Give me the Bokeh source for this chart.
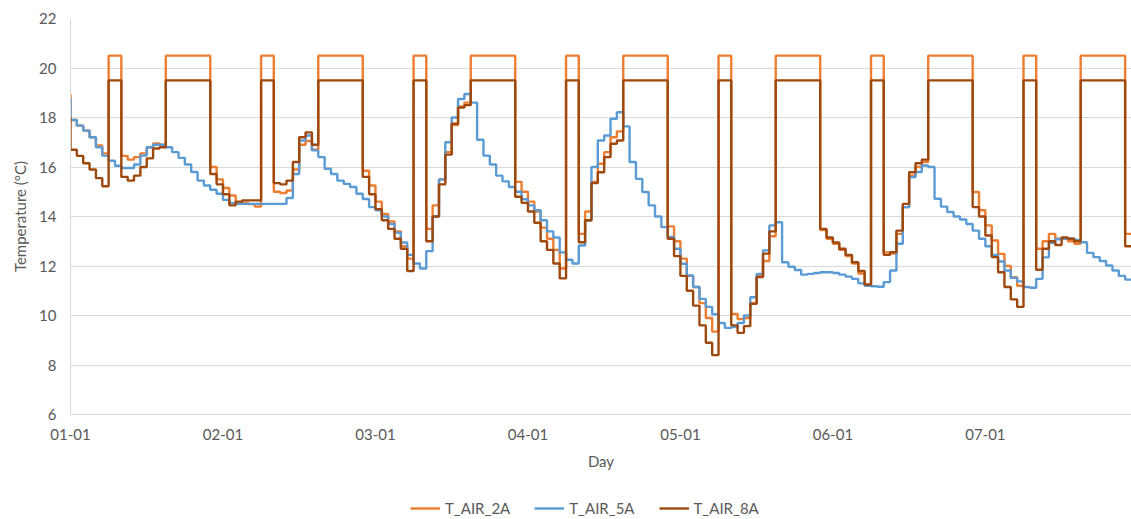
import numpy as np
from bokeh.plotting import figure
from bokeh.layouts import column
from bokeh.models import Range1d, FixedTicker, Legend, LegendItem
from bokeh.embed import file_html
from bokeh.resources import INLINE

# ---- data (hourly values; value i covers hour i-1 .. i) ----
day_ticks = [0, 1, 2, 3, 4, 5, 6]
day_labels = ["01-01", "02-01", "03-01", "04-01", "05-01", "06-01", "07-01"]
y_ticks = [6, 8, 10, 12, 14, 16, 18, 20, 22]

t_air_2a = [
    18.95, 17.9, 17.67, 17.47, 17.2, 16.87, 16.55, 20.5, 20.5, 16.45, 16.3, 16.4,
    16.55, 16.8, 16.95, 16.9, 20.5, 20.5, 20.5, 20.5, 20.5, 20.5, 20.5, 16.0,
    15.5, 15.15, 14.85, 14.55, 14.55, 14.5, 14.4, 20.5, 20.5, 15.0, 14.95, 15.05,
    15.9, 16.9, 17.05, 16.7, 20.5, 20.5, 20.5, 20.5, 20.5, 20.5, 20.5, 15.85,
    15.25, 14.6, 14.1, 13.8, 13.4, 12.8, 12.3, 20.5, 20.5, 13.5, 14.45, 15.5,
    16.6, 17.7, 18.45, 18.6, 20.5, 20.5, 20.5, 20.5, 20.5, 20.5, 20.5, 15.4,
    15.0, 14.6, 14.2, 13.55, 13.1, 12.65, 11.9, 20.5, 20.5, 13.3, 14.2, 15.4,
    16.13, 16.6, 17.2, 17.44, 20.5, 20.5, 20.5, 20.5, 20.5, 20.5, 20.5, 13.6,
    13.0, 12.3, 11.6, 11.15, 10.5, 9.9, 9.35, 20.5, 20.5, 10.06, 9.86, 9.9,
    10.5, 11.6, 12.2, 13.2, 20.5, 20.5, 20.5, 20.5, 20.5, 20.5, 20.5, 13.45,
    13.1, 12.9, 12.65, 12.4, 12.1, 11.7, 11.2, 20.5, 20.5, 12.55, 12.5, 13.3,
    14.38, 15.65, 16.0, 16.2, 20.5, 20.5, 20.5, 20.5, 20.5, 20.5, 20.5, 14.99,
    14.25, 13.64, 13.03, 12.49, 12.0, 11.55, 11.2, 20.5, 20.5, 12.7, 13.0, 13.3,
    13.1, 13.1, 13.0, 12.9, 20.5, 20.5, 20.5, 20.5, 20.5, 20.5, 20.5, 13.3,
]

t_air_5a = [
    18.8, 17.9, 17.67, 17.47, 17.2, 16.8, 16.46, 16.25, 16.05, 15.96, 15.96, 16.1,
    16.46, 16.8, 16.9, 16.9, 16.8, 16.6, 16.37, 16.1, 15.8, 15.45, 15.25, 15.08,
    14.92, 14.67, 14.54, 14.51, 14.51, 14.51, 14.51, 14.51, 14.51, 14.51, 14.51, 14.75,
    15.72, 17.07, 17.27, 16.67, 16.4, 15.93, 15.72, 15.45, 15.32, 15.19, 14.92, 14.71,
    14.38, 14.25, 14.0, 13.7, 13.35, 12.95, 12.45, 12.1, 11.9, 12.6, 14.0, 15.5,
    17.0, 18.0, 18.75, 18.95, 18.6, 17.1, 16.46, 16.1, 15.65, 15.42, 15.19, 15.0,
    14.7, 14.45, 14.25, 13.85, 13.4, 13.15, 12.55, 12.25, 12.1, 12.83, 13.84, 16.0,
    17.07, 17.27, 17.95, 18.21, 17.64, 16.2, 15.52, 14.99, 14.45, 14.0, 13.57, 13.17,
    12.7, 12.09, 11.62, 11.15, 10.67, 10.35, 10.05, 9.7, 9.5, 9.53, 9.7, 10.0,
    10.74, 11.68, 12.63, 13.64, 13.77, 12.15, 11.97, 11.84, 11.65, 11.68, 11.72, 11.75,
    11.75, 11.72, 11.65, 11.57, 11.48, 11.3, 11.2, 11.18, 11.16, 11.35, 11.82, 12.9,
    14.38, 15.59, 15.8, 16.06, 16.0, 14.72, 14.4, 14.18, 14.0, 13.88, 13.7, 13.43,
    13.1, 12.8, 12.45, 12.18, 11.82, 11.52, 11.38, 11.15, 11.12, 11.48, 12.35, 12.94,
    13.08, 13.1, 13.1, 13.05, 12.96, 12.53, 12.36, 12.2, 12.02, 11.82, 11.6, 11.45,
]

t_air_8a = [
    18.0, 16.7, 16.45, 16.15, 15.9, 15.55, 15.22, 19.5, 19.5, 15.6, 15.45, 15.65,
    16.0, 16.35, 16.75, 16.8, 19.5, 19.5, 19.5, 19.5, 19.5, 19.5, 19.5, 15.72,
    15.3, 14.9, 14.45, 14.6, 14.65, 14.65, 14.65, 19.5, 19.5, 15.35, 15.3, 15.45,
    16.2, 17.2, 17.4, 16.9, 19.5, 19.5, 19.5, 19.5, 19.5, 19.5, 19.5, 15.6,
    14.9, 14.3, 13.85, 13.5, 13.1, 12.7, 11.8, 19.5, 19.5, 13.0, 14.0, 15.3,
    16.5, 17.75, 18.4, 18.5, 19.5, 19.5, 19.5, 19.5, 19.5, 19.5, 19.5, 14.8,
    14.55, 14.2, 13.75, 13.0, 12.65, 12.1, 11.5, 19.5, 19.5, 12.96, 13.85, 15.35,
    15.79, 16.4, 16.94, 17.07, 19.5, 19.5, 19.5, 19.5, 19.5, 19.5, 19.5, 13.1,
    12.4, 11.6, 11.0, 10.4, 9.6, 8.9, 8.4, 19.5, 19.5, 9.6, 9.3, 9.57,
    10.47, 11.55, 12.5, 13.4, 19.5, 19.5, 19.5, 19.5, 19.5, 19.5, 19.5, 13.5,
    13.15, 12.95, 12.7, 12.45, 12.15, 11.8, 11.25, 19.5, 19.5, 12.45, 12.56, 13.43,
    14.51, 15.79, 16.15, 16.3, 19.5, 19.5, 19.5, 19.5, 19.5, 19.5, 19.5, 14.38,
    14.0, 13.23, 12.36, 11.75, 11.15, 10.65, 10.35, 19.5, 19.5, 11.85, 12.7, 13.0,
    12.85, 13.15, 13.1, 13.0, 19.5, 19.5, 19.5, 19.5, 19.5, 19.5, 19.5, 12.8,
]

series_names = ["T_AIR_2A", "T_AIR_5A", "T_AIR_8A"]
series_colors = ["#ED7D31", "#5B9BD5", "#9E480E"]

hours = np.arange(len(t_air_2a))
days = hours / 24.0

FONT = "Lato"
TXT = "#595959"
GRID = "#D9D9D9"

p = figure(width=1131, height=496, output_backend="svg", toolbar_location=None,
           x_range=Range1d(0, days[-1]), y_range=Range1d(6, 22),
           min_border_left=70, min_border_right=0, min_border_top=18,
           min_border_bottom=82)
p.outline_line_color = None
p.background_fill_color = "white"

# axes
p.xaxis.ticker = FixedTicker(ticks=day_ticks)
p.xaxis.major_label_overrides = {d: lab for d, lab in zip(day_ticks, day_labels)}
p.yaxis.ticker = FixedTicker(ticks=y_ticks)
for ax in (p.xaxis[0], p.yaxis[0]):
    ax.major_tick_line_color = None
    ax.minor_tick_line_color = None
    ax.major_tick_out = 0
    ax.major_tick_in = 0
    ax.axis_line_color = GRID
    ax.major_label_text_font = FONT
    ax.major_label_text_font_size = "15px"
    ax.major_label_text_color = TXT
    ax.axis_label_text_font = FONT
    ax.axis_label_text_font_size = "15px"
    ax.axis_label_text_color = TXT
    ax.axis_label_text_font_style = "normal"
p.xaxis.axis_label = "Day"
p.yaxis.axis_label = "Temperature (°C)"
p.xaxis.major_label_standoff = 14
p.xaxis.axis_label_standoff = 9
p.yaxis.major_label_standoff = 14
p.yaxis.axis_label_standoff = 7

p.xgrid.grid_line_color = None
p.ygrid.ticker = FixedTicker(ticks=y_ticks)
p.ygrid.grid_line_color = GRID
p.ygrid.grid_line_width = 1

for vals, col in zip([t_air_2a, t_air_5a, t_air_8a], series_colors):
    p.step(days, vals, mode="before", line_color=col, line_width=2.4)

# legend strip below the chart (dummy lines lie outside its visible range)
p2 = figure(width=1131, height=23, output_backend="svg", toolbar_location=None,
            x_range=Range1d(0, 1), y_range=Range1d(0, 1),
            x_axis_location=None, y_axis_location=None,
            min_border_left=0, min_border_right=0, min_border_top=0, min_border_bottom=0)
p2.outline_line_color = None
p2.xgrid.grid_line_color = None
p2.ygrid.grid_line_color = None
leg_renderers = [p2.line([-5, -4], [-5, -5], line_color=c, line_width=2.4)
                 for c in series_colors]
legend = Legend(
    items=[LegendItem(label=n, renderers=[r]) for n, r in zip(series_names, leg_renderers)],
    location=(340, 1), orientation="horizontal",
    glyph_width=30, glyph_height=20, label_standoff=5, spacing=24,
    padding=0, margin=0, border_line_color=None, background_fill_alpha=0,
    label_text_font=FONT, label_text_font_size="15px", label_text_color=TXT,
)
p2.add_layout(legend, "center")

layout = column(p, p2, spacing=0)
open("out.html", "w").write(file_html(layout, INLINE))
